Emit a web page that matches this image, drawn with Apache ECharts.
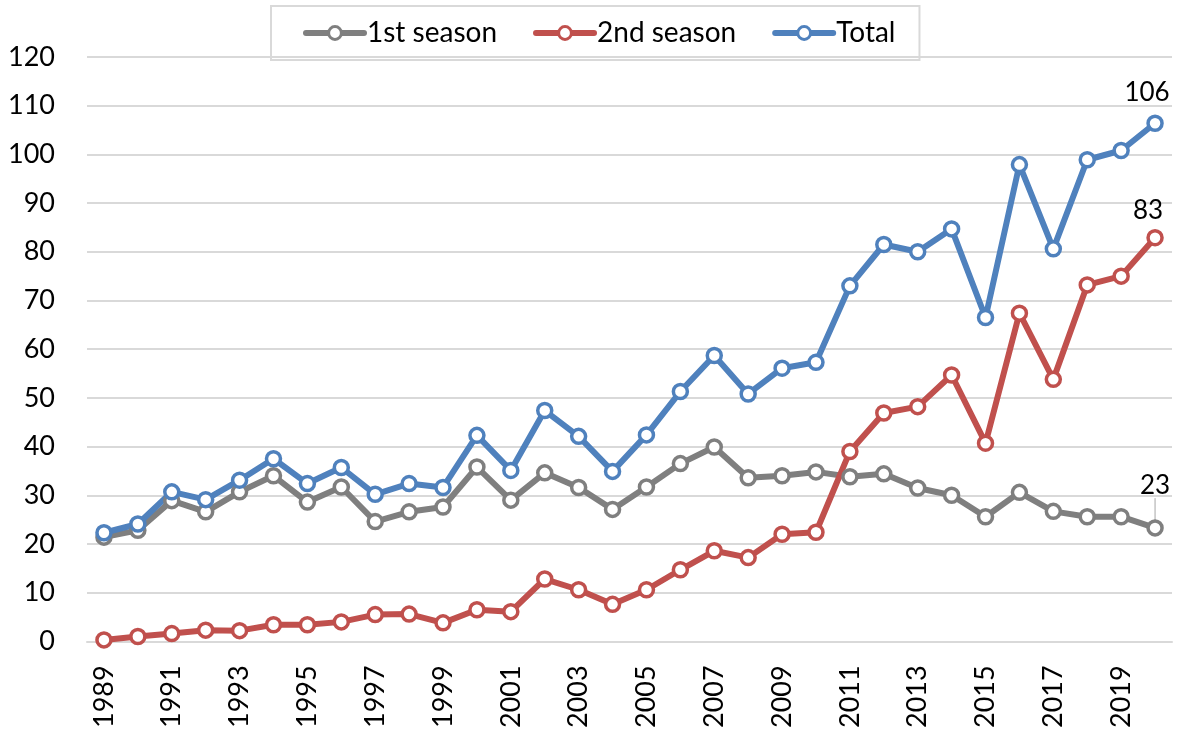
<!DOCTYPE html>
<html>
<head>
<meta charset="utf-8">
<script src="https://cdn.jsdelivr.net/npm/echarts@6/dist/echarts.min.js"></script>
<style>html,body{margin:0;padding:0;background:#fff}#c{width:1179px;height:731px}</style>
</head>
<body>
<div id="c"></div>
<script>
const years = ['1989','1990','1991','1992','1993','1994','1995','1996','1997','1998','1999','2000','2001','2002','2003','2004','2005','2006','2007','2008','2009','2010','2011','2012','2013','2014','2015','2016','2017','2018','2019','2020'];
const firstSeason = [21.4,22.8,28.9,26.6,30.7,34.0,28.6,31.7,24.6,26.6,27.6,35.8,29.0,34.6,31.6,27.1,31.7,36.5,39.9,33.6,34.0,34.8,33.8,34.4,31.5,30.0,25.6,30.6,26.7,25.6,25.6,23.3];
const secondSeason = [0.3,1.0,1.6,2.3,2.2,3.4,3.4,4.0,5.5,5.6,3.8,6.5,6.1,12.8,10.6,7.6,10.6,14.7,18.6,17.2,22.0,22.4,39.0,46.9,48.2,54.7,40.7,67.4,53.8,73.2,75.0,82.9];
const total = [22.3,24.1,30.7,29.1,33.1,37.5,32.4,35.7,30.2,32.4,31.6,42.3,35.1,47.4,42.1,34.9,42.4,51.3,58.7,50.8,56.1,57.3,73.0,81.5,80.0,84.7,66.5,97.9,80.6,98.9,100.8,106.4];
const seriesNames = ['1st season','2nd season','Total'];
const colors = ['#7f7f7f','#c0504d','#4f81bd'];

const FONT = 'Lato';
function withLastLabel(arr, labelOpts){
  return arr.map((v,i)=> i===arr.length-1 ? {value:v, label:Object.assign({show:true}, labelOpts)} : v);
}
function mk(name, data, color, labelOpts, extra){
  return Object.assign({
    name: name, type:'line', data: withLastLabel(data, labelOpts),
    symbol:'circle', symbolSize: 14,
    lineStyle:{color:color, width:6},
    itemStyle:{color:'#fff', borderColor:color, borderWidth:3.5},
    label:{show:false, color:'#000', fontFamily:FONT, fontSize:26,
      formatter: p => Math.round(p.value)},
    emphasis:{disabled:true}
  }, extra||{});
}
const chart = echarts.init(document.getElementById('c'), null, {renderer:'canvas'});
chart.setOption({
  animation:false,
  grid:{left:87, right:7, top:57, bottom:88, containLabel:false},
  legend:{
    left:271, top:6,
    padding:[13,24,13,32], itemGap:36, itemWidth:58, itemHeight:16,
    borderColor:'#d9d9d9', borderWidth:2,
    lineStyle:{width:6, cap:'round'},
    itemStyle:{borderWidth:3},
    textStyle:{fontFamily:FONT, fontSize:28, color:'#000', padding:[0,0,0,-2]},
    data: seriesNames
  },
  xAxis:{
    type:'category', data: years, boundaryGap:true,
    axisLine:{show:true, lineStyle:{color:'#d9d9d9', width:2}},
    axisTick:{show:false},
    axisLabel:{rotate:90, interval:1, margin:24, color:'#000', fontFamily:FONT, fontSize:27}
  },
  yAxis:{
    type:'value', min:0, max:120, interval:10,
    axisLine:{show:false}, axisTick:{show:false},
    splitLine:{lineStyle:{color:'#d9d9d9', width:2}},
    axisLabel:{margin:32, color:'#000', fontFamily:FONT, fontSize:27}
  },
  series:[
    mk(seriesNames[0], firstSeason, colors[0], {position:'top', distance:5, offset:[6,0]},
       {labelLine:{show:true, lineStyle:{color:'#a6a6a6', width:1}}, labelLayout:{dy:-16}}),
    mk(seriesNames[1], secondSeason, colors[1], {position:'top', distance:5, offset:[-7,0]}),
    mk(seriesNames[2], total, colors[2], {position:'top', distance:9, offset:[-8,0]})
  ]
});
</script>
</body>
</html>
